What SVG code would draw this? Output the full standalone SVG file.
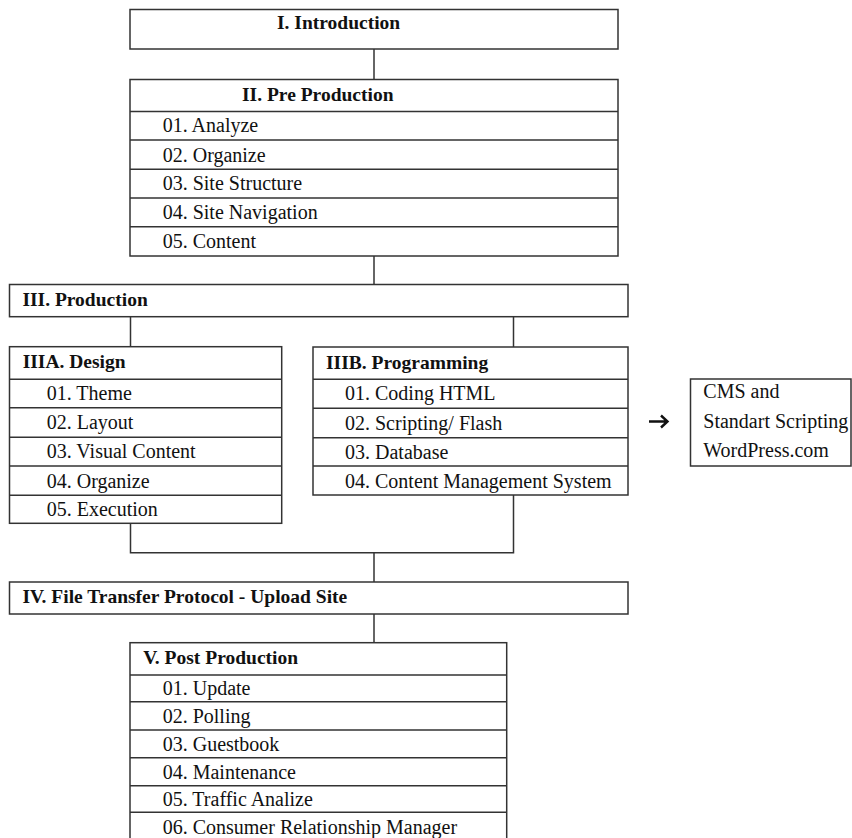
<svg xmlns="http://www.w3.org/2000/svg" width="852" height="838" viewBox="0 0 852 838">
<style>
  .box{fill:#fff;stroke:#333;stroke-width:1.5}
  .sep{stroke:#333;stroke-width:1.5;fill:none}
  .conn{stroke:#333;stroke-width:1.5;fill:none}
  .h{font-family:"Liberation Serif","Times New Roman",serif;font-weight:bold;font-size:19.5px;fill:#111}
  .t{font-family:"Liberation Serif","Times New Roman",serif;font-size:20px;fill:#111}
</style>
<rect width="852" height="838" fill="#fff"/>
<g id="connectors">
  <path class="conn" d="M374 49V79.5"/>
  <path class="conn" d="M374 256V284.5"/>
  <path class="conn" d="M130.5 316.7V346.7"/>
  <path class="conn" d="M513.5 316.7V347"/>
  <path class="conn" d="M130.5 523.3V552.7H513.5V495"/>
  <path class="conn" d="M374 552.7V582"/>
  <path class="conn" d="M374 614V642.7"/>
  <path d="M649 421.5H667M661 415.5L667.5 421.5L661 427.5" stroke="#111" stroke-width="2.4" fill="none"/>
</g>
<g id="intro">
  <rect class="box" x="130" y="9.5" width="488" height="39.5"/>
  <text class="h" x="277" y="29.3">I. Introduction</text>
</g>
<g id="preproduction">
  <rect class="box" x="130" y="79.5" width="488" height="176.5"/>
  <path class="sep" d="M130 111.5H618M130 140H618M130 169.3H618M130 198H618M130 226.7H618"/>
  <text class="h" x="242" y="100.7">II. Pre Production</text>
  <text class="t" x="162.7" y="132.4">01. Analyze</text>
  <text class="t" x="162.7" y="161.7">02. Organize</text>
  <text class="t" x="162.7" y="190.4">03. Site Structure</text>
  <text class="t" x="162.7" y="219.1">04. Site Navigation</text>
  <text class="t" x="162.7" y="248.4">05. Content</text>
</g>
<g id="production">
  <rect class="box" x="9.5" y="284.5" width="618.5" height="32.2"/>
  <text class="h" x="22.4" y="306">III. Production</text>
</g>
<g id="design">
  <rect class="box" x="9.5" y="346.7" width="272.2" height="176.6"/>
  <path class="sep" d="M9.5 379.3H281.7M9.5 407.7H281.7M9.5 437.3H281.7M9.5 466H281.7M9.5 495.3H281.7"/>
  <text class="h" x="22.7" y="368.3">IIIA. Design</text>
  <text class="t" x="46.7" y="400">01. Theme</text>
  <text class="t" x="46.7" y="429.3">02. Layout</text>
  <text class="t" x="46.7" y="458.3">03. Visual Content</text>
  <text class="t" x="46.7" y="487.7">04. Organize</text>
  <text class="t" x="46.7" y="515.7">05. Execution</text>
</g>
<g id="programming">
  <rect class="box" x="313" y="347" width="315" height="148"/>
  <path class="sep" d="M313 379.3H628M313 408.3H628M313 437.7H628M313 466H628"/>
  <text class="h" x="326" y="368.5">IIIB. Programming</text>
  <text class="t" x="345" y="400">01. Coding HTML</text>
  <text class="t" x="345" y="429.5">02. Scripting/ Flash</text>
  <text class="t" x="345" y="458.5">03. Database</text>
  <text class="t" x="345" y="487.7">04. Content Management System</text>
</g>
<g id="cms">
  <rect class="box" x="690.5" y="379" width="160.5" height="87"/>
  <text class="t" x="703.3" y="398.3">CMS and</text>
  <text class="t" x="703.3" y="428">Standart Scripting</text>
  <text class="t" x="703.3" y="457.3">WordPress.com</text>
</g>
<g id="upload">
  <rect class="box" x="9.5" y="582" width="618.5" height="32"/>
  <text class="h" x="22.4" y="603">IV. File Transfer Protocol - Upload Site</text>
</g>
<g id="postproduction">
  <rect class="box" x="130" y="642.7" width="376.7" height="200"/>
  <path class="sep" d="M130 675H506.7M130 701.7H506.7M130 730H506.7M130 757.7H506.7M130 785.7H506.7M130 812.3H506.7"/>
  <text class="h" x="143.3" y="664.3">V. Post Production</text>
  <text class="t" x="162.7" y="695">01. Update</text>
  <text class="t" x="162.7" y="723.3">02. Polling</text>
  <text class="t" x="162.7" y="751">03. Guestbook</text>
  <text class="t" x="162.7" y="779">04. Maintenance</text>
  <text class="t" x="162.7" y="805.6">05. Traffic Analize</text>
  <text class="t" x="162.7" y="833.5">06. Consumer Relationship  Manager</text>
</g>
</svg>
